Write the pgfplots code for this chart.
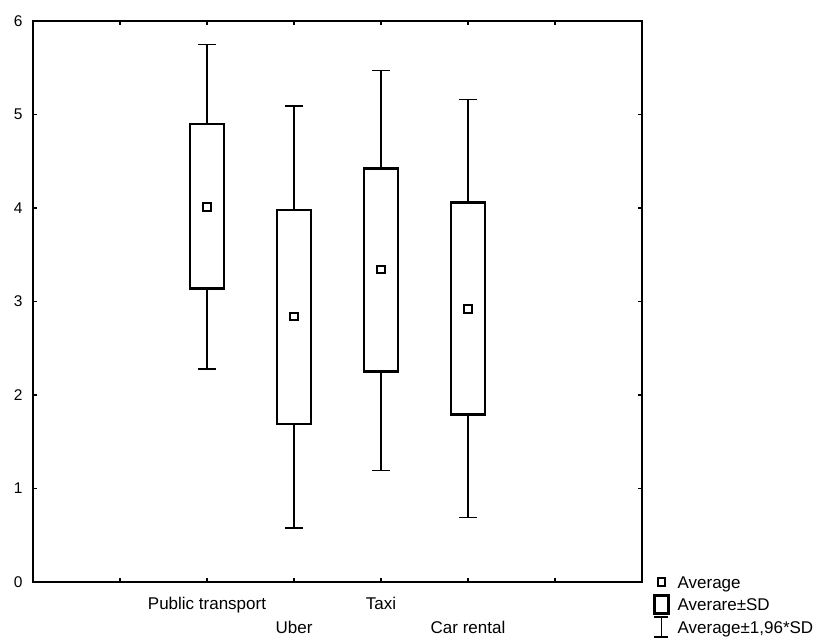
\documentclass[border=0pt]{standalone}
\usepackage{fontspec}
\setmainfont{Liberation Sans}
\usepackage{pgfplots}
\pgfplotsset{compat=1.18}
\usepgfplotslibrary{statistics}
\begin{document}
\begin{tikzpicture}[font=\fontsize{17}{20}\selectfont]
\begin{axis}[
  name=ax,
  scale only axis,
  width=609pt, height=561pt,
  xmin=0, xmax=7, ymin=0, ymax=6,
  xtick={1,2,3,4,5,6},
  xticklabels={{},{Public transport},{\raisebox{-24pt}{Uber}},{Taxi},{\raisebox{-24pt}{Car rental}},{}},
  ytick={0,1,2,3,4,5,6},
  tick align=inside,
  xtick pos=both, ytick pos=both,
  major tick length=4pt,
  every tick/.style={black, line width=1.3pt},
  axis line style={line width=1.6pt},
  /pgf/number format/assume math mode=true,
  yticklabel style={font=\fontsize{15.5}{17}\selectfont, xshift=-7pt},
  xticklabel style={font=\fontsize{17}{20}\selectfont, text height=12pt, text depth=4pt, inner sep=0pt, anchor=north, yshift=-15pt},
  boxplot/draw direction=y,
  boxplot/box extend=0.39,
  boxplot/whisker extend=0.2,
  boxplot/every box/.style={line width=2.6pt},
  boxplot/every whisker/.style={line width=1.5pt},
  boxplot/draw/median/.code={},
  legend style={at={(1,0)}, anchor=north west, xshift=11pt, yshift=11.25pt,
    draw=none, fill=none, inner sep=0pt, outer sep=0pt,
    row sep=0pt, column sep=8pt,
    font=\fontsize{17}{20}\selectfont,
    nodes={text height=17.35pt, text depth=5.15pt, inner sep=0pt}},
  legend cell align=left,
]
% Public transport
\addplot[black, solid, forget plot, boxplot prepared={draw position=2,
  lower whisker=2.28, lower quartile=3.14, median=4.01,
  upper quartile=4.90, upper whisker=5.75}] coordinates {};
% Uber
\addplot[black, solid, forget plot, boxplot prepared={draw position=3,
  lower whisker=0.58, lower quartile=1.69, median=2.84,
  upper quartile=3.98, upper whisker=5.09}] coordinates {};
% Taxi
\addplot[black, solid, forget plot, boxplot prepared={draw position=4,
  lower whisker=1.19, lower quartile=2.25, median=3.34,
  upper quartile=4.42, upper whisker=5.47}] coordinates {};
% Car rental
\addplot[black, solid, forget plot, boxplot prepared={draw position=5,
  lower whisker=0.69, lower quartile=1.79, median=2.92,
  upper quartile=4.06, upper whisker=5.16}] coordinates {};
% Averages
\addplot[only marks, mark=square*, mark size=3.7pt,
  mark options={draw=black, fill=white, line width=2pt},
  legend image code/.code={
    \path[draw=none, fill=none] (0pt,0pt) -- (16pt,0pt);
    \draw[solid, black, line width=2pt, fill=white] (4.4pt,-3.6pt) rectangle (11.6pt,3.6pt);
  }] coordinates {(2,4.01) (3,2.84) (4,3.34) (5,2.92)};
\addlegendentry{Average}
\addlegendimage{legend image code/.code={
    \draw[black, line width=2.6pt] (1pt,-9pt) rectangle (15pt,9pt);
  }}
\addlegendentry{Averare±SD}
\addlegendimage{legend image code/.code={
    \draw[black, line width=1.5pt] (1pt,-10pt) -- (15pt,-10pt) (8pt,-10pt) -- (8pt,10pt) (1pt,10pt) -- (15pt,10pt);
  }}
\addlegendentry{Average±1,96*SD}
\end{axis}
\pgfresetboundingbox
\path ([shift={(-33pt,-60pt)}]ax.south west) rectangle ([shift={(181pt,21pt)}]ax.north east);
\end{tikzpicture}
\end{document}
